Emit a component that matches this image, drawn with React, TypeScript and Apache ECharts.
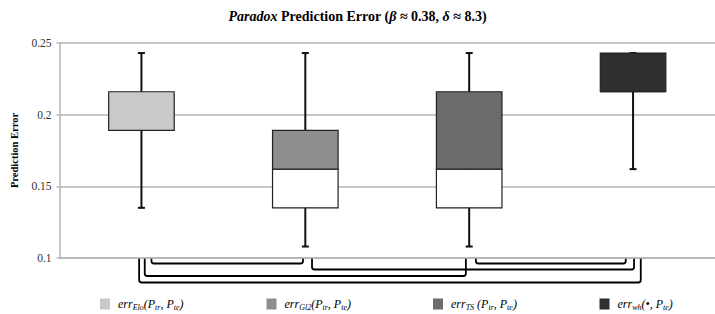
import React, { useEffect, useRef } from 'react';
import * as echarts from 'echarts';

// ---- data ----
const categories = ['Elo', 'Gl2', 'TS', 'wh'];
const minValues = [0.135, 0.108, 0.108, 0.162];
const q1Values = [0.189, 0.135, 0.135, 0.216];
const medianValues = [0.189, 0.162, 0.162, 0.216];
const q3Values = [0.216, 0.189, 0.216, 0.243];
const maxValues = [0.243, 0.243, 0.243, 0.243];
const legendLabels = [
  '{i|err}{s|Elo}{i|(P}{s|tr}{i|, P}{s|te}{i|)}',
  '{i|err}{s|Gl2}{i|(P}{s|tr}{i|, P}{s|te}{i|)}',
  '{i|err}{s|TS}{i| (P}{s|tr}{i|, P}{s|te}{i|)}',
  '{i|err}{s|wh}{i|(•, P}{s|te}{i|)}',
];
const bracketPairs = [
  [0, 1],
  [2, 3],
  [1, 3],
  [0, 2],
  [0, 3],
];
const yMin = 0.1;
const yMax = 0.25;
const yInterval = 0.05;
const titleText = '{bi|Paradox}{b| Prediction Error (}{bi|β}{b| ≈ 0.38, }{bi|δ}{b| ≈ 8.3)}';
const yAxisTitle = 'Prediction Error';

// ---- styles ----
const boxColors = ['#c9c9c9', '#8e8e8e', '#6b6b6b', '#2f2f2f'];
const legendLefts = [100, 266.5, 433, 599.5];
const bracketOffsets = [
  [10, -2.3],
  [6.7, -7.3],
  [6.7, 1],
  [3.3, -3.3],
  [-2.3, 7.7],
];
const bracketDepths = [5.5, 5.5, 11.5, 18, 24.5];
const SERIF = '"Liberation Serif", "Times New Roman", serif';

export default function App() {
  const ref = useRef<HTMLDivElement>(null);

  useEffect(() => {
    const chart = echarts.init(ref.current!, null, { renderer: 'svg' });

    const boxSeries = categories.map((name, i) => ({
      type: 'custom',
      name,
      itemStyle: { color: boxColors[i] },
      encode: { x: 0, y: [1, 2, 3, 4, 5] },
      data: [[i, minValues[i], q1Values[i], medianValues[i], q3Values[i], maxValues[i]]],
      renderItem: (params: any, api: any) => {
        const x = api.value(0);
        const pMin = api.coord([x, api.value(1)]);
        const cx = pMin[0];
        const yLo = pMin[1];
        const yQ1 = api.coord([x, api.value(2)])[1];
        const yMed = api.coord([x, api.value(3)])[1];
        const yQ3 = api.coord([x, api.value(4)])[1];
        const yHi = api.coord([x, api.value(5)])[1];
        const bw = api.size([1, 0])[0] * 0.4;
        const color = api.visual('color');
        const capW = 3.5;
        return {
          type: 'group',
          children: [
            { type: 'line', shape: { x1: cx, y1: yHi, x2: cx, y2: yLo }, style: { stroke: '#111', lineWidth: 2 } },
            { type: 'line', shape: { x1: cx - capW, y1: yHi, x2: cx + capW, y2: yHi }, style: { stroke: '#111', lineWidth: 2 } },
            { type: 'line', shape: { x1: cx - capW, y1: yLo, x2: cx + capW, y2: yLo }, style: { stroke: '#111', lineWidth: 2 } },
            {
              type: 'rect',
              shape: { x: cx - bw / 2, y: yMed, width: bw, height: yQ1 - yMed },
              style: { fill: '#ffffff', stroke: '#222', lineWidth: 1.2 },
            },
            {
              type: 'rect',
              shape: { x: cx - bw / 2, y: yQ3, width: bw, height: yMed - yQ3 },
              style: { fill: color, stroke: '#222', lineWidth: 1.2 },
            },
          ],
        };
      },
    }));

    const bracketSeries = {
      type: 'custom',
      name: 'brackets',
      silent: true,
      clip: false,
      encode: { x: [0, 1] },
      data: bracketPairs,
      renderItem: (params: any, api: any) => {
        const idx = params.dataIndex;
        const p1 = api.coord([api.value(0), yMin]);
        const p2 = api.coord([api.value(1), yMin]);
        const y0 = p1[1];
        const a = p1[0] + bracketOffsets[idx][0];
        const b = p2[0] + bracketOffsets[idx][1];
        const yb = y0 + bracketDepths[idx];
        const r = 2.5;
        const d = `M${a},${y0 + 0.8} L${a},${yb - r} Q${a},${yb} ${a + r},${yb} L${b - r},${yb} Q${b},${yb} ${b},${yb - r} L${b},${y0 + 0.8}`;
        return {
          type: 'path',
          shape: { pathData: d },
          style: { fill: 'none', stroke: '#000', lineWidth: 1.8 },
        };
      },
    };

    const legendRich = {
      i: { fontFamily: SERIF, fontStyle: 'italic', fontSize: 12, lineHeight: 14, color: '#000', verticalAlign: 'middle' },
      s: { fontFamily: SERIF, fontStyle: 'italic', fontSize: 8, lineHeight: 8, color: '#000', verticalAlign: 'bottom' },
    };

    const option: any = {
      animation: false,
      backgroundColor: '#ffffff',
      title: {
        text: titleText,
        left: 'center',
        top: 4,
        textStyle: {
          rich: {
            b: { fontFamily: SERIF, fontWeight: 'bold', fontSize: 14, color: '#000' },
            bi: { fontFamily: SERIF, fontWeight: 'bold', fontStyle: 'italic', fontSize: 14, color: '#000' },
          },
        },
      },
      grid: { left: 59.5, right: -12.5, top: 43, bottom: 56 },
      xAxis: {
        type: 'category',
        data: categories,
        axisLabel: { show: false },
        axisTick: { show: false },
        axisLine: { show: true, lineStyle: { color: '#b5b5b5', width: 1.5 } },
        splitLine: { show: false },
      },
      yAxis: {
        type: 'value',
        min: yMin,
        max: yMax,
        interval: yInterval,
        name: yAxisTitle,
        nameLocation: 'middle',
        nameRotate: 90,
        nameGap: 39,
        nameTextStyle: { fontFamily: SERIF, fontWeight: 'bold', fontSize: 10.5, color: '#000' },
        axisLine: { show: true, lineStyle: { color: '#b5b5b5', width: 1.5 } },
        axisTick: { show: true, length: 3, lineStyle: { color: '#b5b5b5', width: 1.5 } },
        axisLabel: {
          fontFamily: SERIF,
          fontSize: 11.5,
          color: '#333',
          margin: 8,
          formatter: (v: number) => String(+v.toFixed(2)),
        },
        splitLine: { show: true, lineStyle: { color: '#b5b5b5', width: 1.5 } },
      },
      legend: categories.map((name, i) => ({
        data: [name],
        left: legendLefts[i],
        top: 297,
        padding: 0,
        icon: 'rect',
        itemWidth: 10,
        itemHeight: 11,
        itemGap: 0,
        selectedMode: false,
        formatter: () => legendLabels[i],
        textStyle: { fontSize: 12, lineHeight: 14, rich: legendRich, padding: [0, 0, 0, 3] },
      })),
      series: [...boxSeries, bracketSeries],
    };

    chart.setOption(option);
    return () => chart.dispose();
  }, []);

  return <div ref={ref} style={{ position: 'absolute', left: 0, top: 0, width: 715, height: 314 }} />;
}
